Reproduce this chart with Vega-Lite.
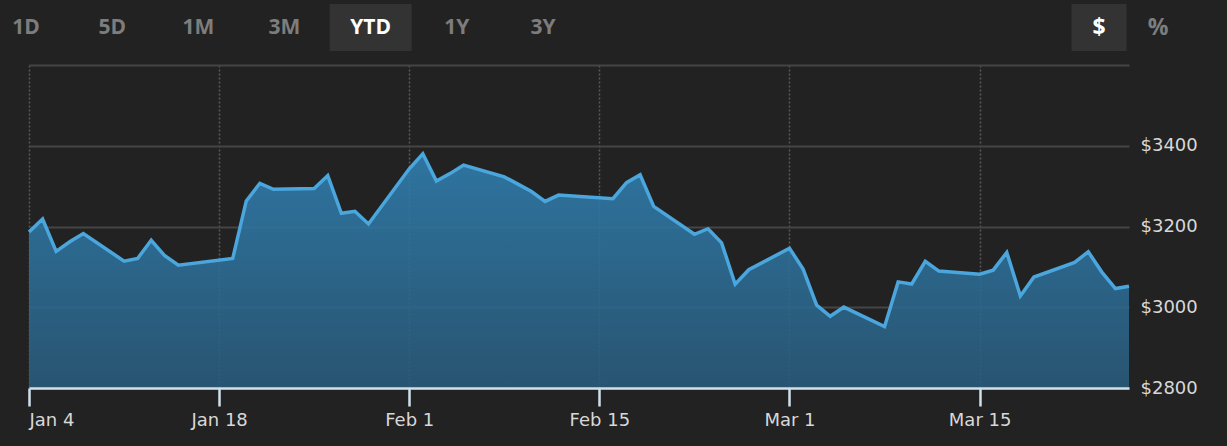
{
  "$schema": "https://vega.github.io/schema/vega-lite/v6.json",
  "background": "#222222",
  "padding": {"left": 0, "top": 4, "right": 0, "bottom": 17},
  "spacing": 14,
  "config": {"view": {"stroke": null}, "font": "DejaVu Sans"},
  "datasets": {
    "buttons": [
      {"label": "1D", "group": "range", "active": false},
      {"label": "5D", "group": "range", "active": false},
      {"label": "1M", "group": "range", "active": false},
      {"label": "3M", "group": "range", "active": false},
      {"label": "YTD", "group": "range", "active": true},
      {"label": "1Y", "group": "range", "active": false},
      {"label": "3Y", "group": "range", "active": false},
      {"label": "$", "group": "unit", "active": true},
      {"label": "%", "group": "unit", "active": false}
    ],
    "prices": [
      {"date": "2021-01-04", "close": 3186.63},
      {"date": "2021-01-05", "close": 3218.51},
      {"date": "2021-01-06", "close": 3138.38},
      {"date": "2021-01-07", "close": 3162.16},
      {"date": "2021-01-08", "close": 3182.70},
      {"date": "2021-01-11", "close": 3114.21},
      {"date": "2021-01-12", "close": 3120.83},
      {"date": "2021-01-13", "close": 3165.89},
      {"date": "2021-01-14", "close": 3127.47},
      {"date": "2021-01-15", "close": 3104.25},
      {"date": "2021-01-19", "close": 3120.76},
      {"date": "2021-01-20", "close": 3263.38},
      {"date": "2021-01-21", "close": 3306.99},
      {"date": "2021-01-22", "close": 3292.23},
      {"date": "2021-01-25", "close": 3294.00},
      {"date": "2021-01-26", "close": 3326.13},
      {"date": "2021-01-27", "close": 3232.58},
      {"date": "2021-01-28", "close": 3237.62},
      {"date": "2021-01-29", "close": 3206.20},
      {"date": "2021-02-01", "close": 3342.88},
      {"date": "2021-02-02", "close": 3380.00},
      {"date": "2021-02-03", "close": 3312.53},
      {"date": "2021-02-04", "close": 3331.00},
      {"date": "2021-02-05", "close": 3352.15},
      {"date": "2021-02-08", "close": 3322.94},
      {"date": "2021-02-09", "close": 3305.00},
      {"date": "2021-02-10", "close": 3286.58},
      {"date": "2021-02-11", "close": 3262.13},
      {"date": "2021-02-12", "close": 3277.71},
      {"date": "2021-02-16", "close": 3268.95},
      {"date": "2021-02-17", "close": 3308.64},
      {"date": "2021-02-18", "close": 3328.23},
      {"date": "2021-02-19", "close": 3249.90},
      {"date": "2021-02-22", "close": 3180.74},
      {"date": "2021-02-23", "close": 3194.50},
      {"date": "2021-02-24", "close": 3159.53},
      {"date": "2021-02-25", "close": 3057.16},
      {"date": "2021-02-26", "close": 3092.93},
      {"date": "2021-03-01", "close": 3146.14},
      {"date": "2021-03-02", "close": 3094.53},
      {"date": "2021-03-03", "close": 3005.00},
      {"date": "2021-03-04", "close": 2977.57},
      {"date": "2021-03-05", "close": 3000.46},
      {"date": "2021-03-08", "close": 2951.95},
      {"date": "2021-03-09", "close": 3062.85},
      {"date": "2021-03-10", "close": 3057.64},
      {"date": "2021-03-11", "close": 3113.59},
      {"date": "2021-03-12", "close": 3089.49},
      {"date": "2021-03-15", "close": 3081.68},
      {"date": "2021-03-16", "close": 3091.86},
      {"date": "2021-03-17", "close": 3135.73},
      {"date": "2021-03-18", "close": 3027.99},
      {"date": "2021-03-19", "close": 3074.96},
      {"date": "2021-03-22", "close": 3110.87},
      {"date": "2021-03-23", "close": 3137.50},
      {"date": "2021-03-24", "close": 3087.07},
      {"date": "2021-03-25", "close": 3046.26},
      {"date": "2021-03-26", "close": 3052.03}
    ]
  },
  "vconcat": [
    {
      "width": 1198,
      "height": 47,
      "data": {"name": "buttons"},
      "layer": [
        {
          "transform": [{"filter": "datum.group === 'range'"}],
          "encoding": {
            "x": {"field": "label", "type": "nominal", "sort": null, "axis": null,
                  "scale": {"type": "point", "domain": ["1D", "5D", "1M", "3M", "YTD", "1Y", "3Y"], "range": [-3, 514], "padding": 0}}
          },
          "layer": [
            {"transform": [{"filter": "datum.active"}],
             "mark": {"type": "bar", "width": 82, "color": "#333333"}},
            {"mark": {"type": "text", "font": "Open Sans", "fontWeight": "bold", "fontSize": 21, "baseline": "middle"},
             "encoding": {
               "text": {"field": "label"},
               "color": {"condition": {"test": "datum.active", "value": "#ffffff"}, "value": "#7d7d7d"}
             }}
          ]
        },
        {
          "transform": [{"filter": "datum.group === 'unit'"}],
          "encoding": {
            "x": {"field": "label", "type": "nominal", "sort": null, "axis": null,
                  "scale": {"type": "point", "domain": ["$", "%"], "range": [1070, 1129], "padding": 0}}
          },
          "layer": [
            {"transform": [{"filter": "datum.active"}],
             "mark": {"type": "bar", "width": 55, "color": "#333333"}},
            {"mark": {"type": "text", "font": "Open Sans", "fontWeight": "bold", "fontSize": 23, "baseline": "middle"},
             "encoding": {
               "text": {"field": "label"},
               "color": {"condition": {"test": "datum.active", "value": "#ffffff"}, "value": "#7d7d7d"}
             }}
          ]
        }
      ],
      "resolve": {"scale": {"x": "independent"}}
    },
    {
      "width": 1100,
      "height": 323,
      "data": {"name": "prices"},
      "encoding": {
        "x": {"field": "date", "type": "temporal", "scale": {"type": "utc"}}
      },
      "layer": [
        {
          "mark": {
            "type": "area",
            "fillOpacity": 0.88,
            "color": {
              "gradient": "linear", "x1": 0, "y1": 0, "x2": 0, "y2": 1,
              "stops": [
                {"offset": 0, "color": "#3080b2"},
                {"offset": 1, "color": "#295b7b"}
              ]
            }
          },
          "encoding": {
            "x": {"field": "date", "type": "temporal",
                  "axis": {
                    "orient": "bottom", "title": null, "labels": false, "ticks": false, "domain": false,
                    "grid": true, "gridColor": "#5a5a5a", "gridDash": [2, 2], "gridWidth": 1.5,
                    "values": [
                      {"year": 2021, "month": "jan", "date": 4, "utc": true},
                      {"year": 2021, "month": "jan", "date": 18, "utc": true},
                      {"year": 2021, "month": "feb", "date": 1, "utc": true},
                      {"year": 2021, "month": "feb", "date": 15, "utc": true},
                      {"year": 2021, "month": "mar", "date": 1, "utc": true},
                      {"year": 2021, "month": "mar", "date": 15, "utc": true}
                    ],
                    "zindex": 0
                  }},
            "y": {"field": "close", "type": "quantitative",
                  "scale": {"domain": [2800, 3600], "nice": false, "zero": false},
                  "axis": {
                    "orient": "right", "title": null, "values": [2800, 3000, 3200, 3400, 3600],
                    "labelExpr": "datum.value == 3600 ? '' : '$' + datum.value",
                    "domain": false, "ticks": false, "labelPadding": 11, "labelAlign": "left",
                    "labelFont": "DejaVu Sans", "labelFontSize": 18, "labelColor": "#d8d8d8",
                    "grid": true, "gridColor": "#454545", "gridWidth": 2
                  }},
            "y2": {"datum": 2800}
          }
        },
        {
          "mark": {"type": "line", "color": "#4aa6dc", "strokeWidth": 3.5, "strokeJoin": "miter"},
          "encoding": {
            "x": {"field": "date", "type": "temporal",
                  "axis": {
                    "orient": "bottom", "title": null, "grid": false, "format": "%b %-d",
                    "values": [
                      {"year": 2021, "month": "jan", "date": 4, "utc": true},
                      {"year": 2021, "month": "jan", "date": 18, "utc": true},
                      {"year": 2021, "month": "feb", "date": 1, "utc": true},
                      {"year": 2021, "month": "feb", "date": 15, "utc": true},
                      {"year": 2021, "month": "mar", "date": 1, "utc": true},
                      {"year": 2021, "month": "mar", "date": 15, "utc": true}
                    ],
                    "domainColor": "#cfe0ea", "domainWidth": 2.5,
                    "tickColor": "#cfe0ea", "tickWidth": 2.5, "tickSize": 18,
                    "labelFlush": true, "labelPadding": 5,
                    "labelFont": "DejaVu Sans", "labelFontSize": 18, "labelColor": "#d8d8d8",
                    "zindex": 1
                  }},
            "y": {"field": "close", "type": "quantitative",
                  "scale": {"domain": [2800, 3600], "nice": false, "zero": false},
                  "axis": {
                    "orient": "left", "title": null, "labels": false, "ticks": false,
                    "domain": false, "grid": false, "minExtent": 29, "maxExtent": 29
                  }}
          }
        }
      ],
      "resolve": {"scale": {"y": "independent"}, "axis": {"x": "independent", "y": "independent"}}
    }
  ]
}
